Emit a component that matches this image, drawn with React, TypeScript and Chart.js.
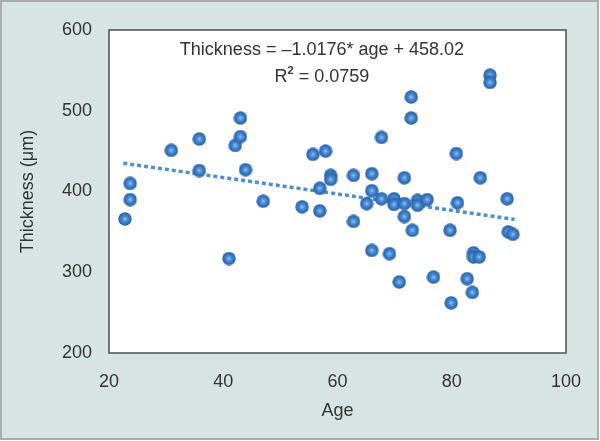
import React, { useEffect, useRef } from "react";
import { Chart, registerables } from "chart.js";

Chart.register(...registerables);

const ages = [
  22.8, 23.7, 23.7, 30.9, 35.8, 35.8, 41.0, 42.1, 43.0, 43.0, 43.9, 47.0,
  53.8, 55.7, 56.9, 56.9, 57.9, 58.8, 58.8, 62.8, 62.8, 65.1, 66.0, 66.0,
  66.0, 67.7, 67.7, 69.1, 69.9, 69.9, 70.8, 71.7, 71.7, 71.7, 72.9, 72.9,
  73.1, 74.0, 74.0, 75.7, 76.8, 79.7, 79.9, 80.8, 81.0, 82.7, 83.6, 83.8,
  83.8, 84.8, 85.0, 86.7, 86.7, 89.7, 89.9, 90.7,
];
const thickness = [
  366, 390, 410, 451, 465, 426, 317, 457, 491, 468, 427, 388,
  381, 446, 376, 404, 450, 420, 415, 363, 420, 385, 422, 401,
  327, 467, 391, 323, 391, 384, 288, 385, 369, 417, 517, 491,
  352, 389, 383, 390, 294, 352, 262, 447, 386, 292, 275, 324,
  319, 319, 417, 544, 535, 391, 350, 347,
];
const trendX = [22.5, 91];
const trendY = [435.1, 365.4];
const xTicks = [20, 40, 60, 80, 100];
const yTicks = [200, 300, 400, 500, 600];
const equationText = "Thickness = \u20131.0176* age + 458.02";
const r2Value = " = 0.0759";

const FONT = '"Liberation Sans", Arial, sans-serif';
const TEXT = "#333333";

function makeSphere(): HTMLCanvasElement {
  const c = document.createElement("canvas");
  const s = 14;
  c.width = s;
  c.height = s;
  const g = c.getContext("2d")!;
  const grad = g.createRadialGradient(7, 7, 0, 7, 7, 6.7);
  grad.addColorStop(0, "#a9d3f5");
  grad.addColorStop(0.25, "#5a9de0");
  grad.addColorStop(0.6, "#3a7cc6");
  grad.addColorStop(0.85, "#3068b2");
  grad.addColorStop(1, "#2b5ea0");
  g.fillStyle = grad;
  g.beginPath();
  g.arc(7, 7, 6.7, 0, Math.PI * 2);
  g.fill();
  return c;
}

const framePlugin = {
  id: "frame",
  beforeDraw(chart: any) {
    const { ctx, width, height, chartArea: a } = chart;
    ctx.save();
    ctx.fillStyle = "#ffffff";
    ctx.fillRect(0, 0, width, height);
    ctx.fillStyle = "#d8e4e1";
    ctx.fillRect(1, 1, 597, 438);
    ctx.strokeStyle = "#a7aeac";
    ctx.lineWidth = 2;
    ctx.strokeRect(1, 1, 597, 438);
    ctx.fillStyle = "#ffffff";
    ctx.fillRect(a.left, a.top, a.right - a.left, a.bottom - a.top);
    ctx.restore();
  },
  afterDatasetsDraw(chart: any) {
    const { ctx, chartArea: a } = chart;
    ctx.save();
    ctx.strokeStyle = "#505050";
    ctx.lineWidth = 1.5;
    ctx.strokeRect(a.left, a.top, a.right - a.left, a.bottom - a.top);
    // annotation
    const cx = a.left + (a.right - a.left) * 0.466;
    ctx.fillStyle = TEXT;
    ctx.textBaseline = "alphabetic";
    ctx.textAlign = "left";
    ctx.font = "18px " + FONT;
    const w1 = ctx.measureText(equationText).width;
    ctx.fillText(equationText, cx - w1 / 2, a.top + 25);
    const wR = ctx.measureText("R").width;
    const wRest = ctx.measureText(r2Value).width;
    ctx.font = "bold 11px " + FONT;
    const w2 = ctx.measureText("2").width;
    const total = wR + w2 + wRest;
    let x = cx - total / 2;
    ctx.font = "18px " + FONT;
    ctx.fillText("R", x, a.top + 52);
    x += wR;
    ctx.font = "bold 11px " + FONT;
    ctx.fillText("2", x, a.top + 44);
    x += w2;
    ctx.font = "18px " + FONT;
    ctx.fillText(r2Value, x, a.top + 52);
    ctx.restore();
  },
};

export default function App() {
  const ref = useRef<HTMLCanvasElement>(null);
  useEffect(() => {
    const sphere = makeSphere();
    const points = ages.map((a, i) => ({ x: a, y: thickness[i] }));
    const trend = trendX.map((a, i) => ({ x: a, y: trendY[i] }));
    const chart = new Chart(ref.current!, {
      type: "scatter",
      data: {
        datasets: [
          {
            label: "Thickness",
            data: points,
            pointStyle: sphere as any,
            pointRadius: 7,
            pointHoverRadius: 7,
          },
          {
            type: "line" as any,
            label: "Trend",
            data: trend,
            borderColor: "#4f8fd0",
            borderWidth: 3.5,
            borderDash: [4, 3],
            borderCapStyle: "butt",
            pointRadius: 0,
            showLine: true,
            fill: false,
          },
        ],
      },
      options: {
        responsive: false,
        animation: false,
        layout: { padding: { top: 30, right: 34, left: 0, bottom: 0 } },
        plugins: {
          legend: { display: false },
          tooltip: { enabled: false },
        },
        scales: {
          x: {
            type: "linear",
            min: 20,
            max: 100,
            afterBuildTicks: (s: any) => {
              s.ticks = xTicks.map((v) => ({ value: v }));
            },
            afterFit: (s: any) => {
              s.height = 88;
            },
            grid: { display: false },
            border: { display: false },
            ticks: {
              color: TEXT,
              font: { family: FONT, size: 18 },
              padding: 10,
            },
            title: {
              display: true,
              text: "Age",
              color: TEXT,
              font: { family: FONT, size: 18 },
              padding: { top: 0, bottom: 19 },
            },
          },
          y: {
            type: "linear",
            min: 200,
            max: 600,
            afterBuildTicks: (s: any) => {
              s.ticks = yTicks.map((v) => ({ value: v }));
            },
            afterFit: (s: any) => {
              s.width = 109;
            },
            grid: { display: false },
            border: { display: false },
            ticks: {
              color: TEXT,
              font: { family: FONT, size: 18 },
              padding: 9,
            },
            title: {
              display: true,
              text: "Thickness (\u03bcm)",
              color: TEXT,
              font: { family: FONT, size: 18 },
              padding: { top: 17, bottom: 0 },
            },
          },
        },
      },
      plugins: [framePlugin],
    });
    return () => chart.destroy();
  }, []);
  return (
    <div style={{ position: "absolute", left: 0, top: 0, width: 600, height: 441 }}>
      <canvas ref={ref} width={600} height={441} />
    </div>
  );
}
